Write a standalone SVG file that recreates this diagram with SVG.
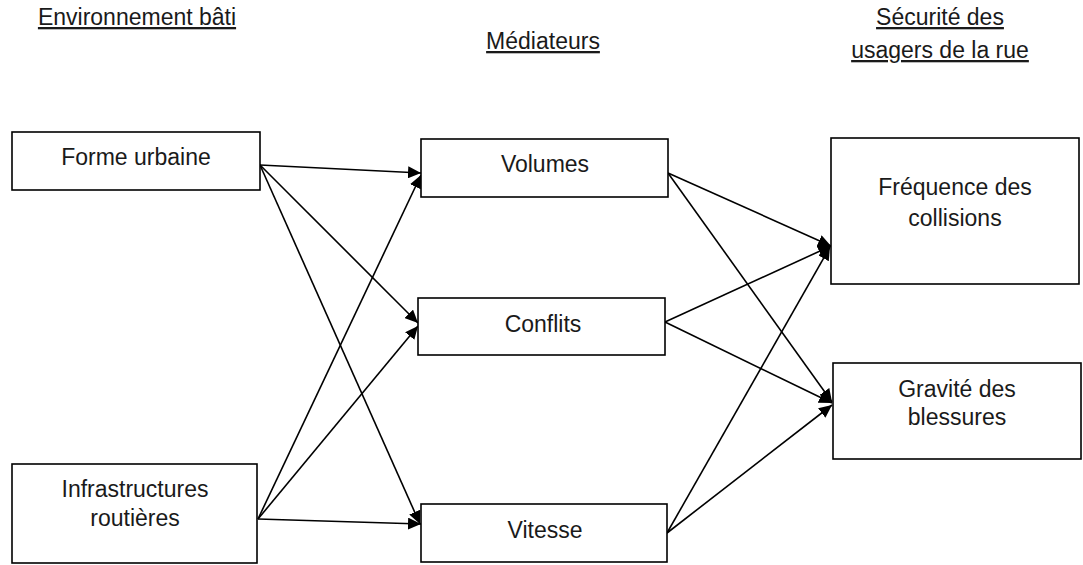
<svg xmlns="http://www.w3.org/2000/svg" width="1083" height="565" viewBox="0 0 1083 565">
<style>
.box{fill:#fff;stroke:#000;stroke-width:1.6}
.t{font-family:"Liberation Sans",Arial,sans-serif;font-size:23px;fill:#1a1a1a;text-anchor:middle}
.h{font-family:"Liberation Sans",Arial,sans-serif;font-size:23px;fill:#1a1a1a;text-anchor:middle;text-decoration:underline}
.c{stroke:#000;stroke-width:1.6;fill:none;marker-end:url(#arr)}
</style>
<defs>
<marker id="arr" markerUnits="userSpaceOnUse" markerWidth="14" markerHeight="12" refX="13" refY="6" orient="auto">
<path d="M0,0 L13,6 L0,12 z" fill="#000"/>
</marker>
</defs>
<rect width="1083" height="565" fill="#fff"/>
<g id="headers">
<text class="h" x="137" y="25">Environnement bâti</text>
<text class="h" x="543" y="49">Médiateurs</text>
<text class="h" x="940" y="25">Sécurité des</text>
<text class="h" x="940" y="58">usagers de la rue</text>
</g>
<g id="connectors">
<line class="c" x1="260" y1="165" x2="421" y2="173"/>
<line class="c" x1="260" y1="165" x2="418" y2="323"/>
<line class="c" x1="260" y1="165" x2="420" y2="524"/>
<line class="c" x1="258" y1="519" x2="421" y2="175"/>
<line class="c" x1="258" y1="519" x2="418" y2="326"/>
<line class="c" x1="258" y1="519" x2="421" y2="524"/>
<line class="c" x1="668" y1="173" x2="831" y2="246"/>
<line class="c" x1="668" y1="173" x2="832" y2="402"/>
<line class="c" x1="665" y1="322" x2="831" y2="246"/>
<line class="c" x1="665" y1="322" x2="832" y2="403"/>
<line class="c" x1="667" y1="533" x2="830" y2="247"/>
<line class="c" x1="667" y1="533" x2="832" y2="405"/>
</g>
<g id="forme">
<rect class="box" x="12" y="132" width="248" height="58"/>
<text class="t" x="136" y="165">Forme urbaine</text>
</g>
<g id="infra">
<rect class="box" x="12" y="464" width="245" height="99"/>
<text class="t" x="135" y="497">Infrastructures</text>
<text class="t" x="135" y="526">routières</text>
</g>
<g id="volumes">
<rect class="box" x="421" y="139" width="247" height="58"/>
<text class="t" x="545" y="172">Volumes</text>
</g>
<g id="conflits">
<rect class="box" x="418" y="298" width="247" height="57"/>
<text class="t" x="543" y="332">Conflits</text>
</g>
<g id="vitesse">
<rect class="box" x="421" y="504" width="246" height="58"/>
<text class="t" x="545" y="538">Vitesse</text>
</g>
<g id="frequence">
<rect class="box" x="831" y="138" width="248" height="146"/>
<text class="t" x="955" y="195">Fréquence des</text>
<text class="t" x="955" y="226">collisions</text>
</g>
<g id="gravite">
<rect class="box" x="833" y="363" width="248" height="96"/>
<text class="t" x="957" y="397">Gravité des</text>
<text class="t" x="957" y="425">blessures</text>
</g>
</svg>
